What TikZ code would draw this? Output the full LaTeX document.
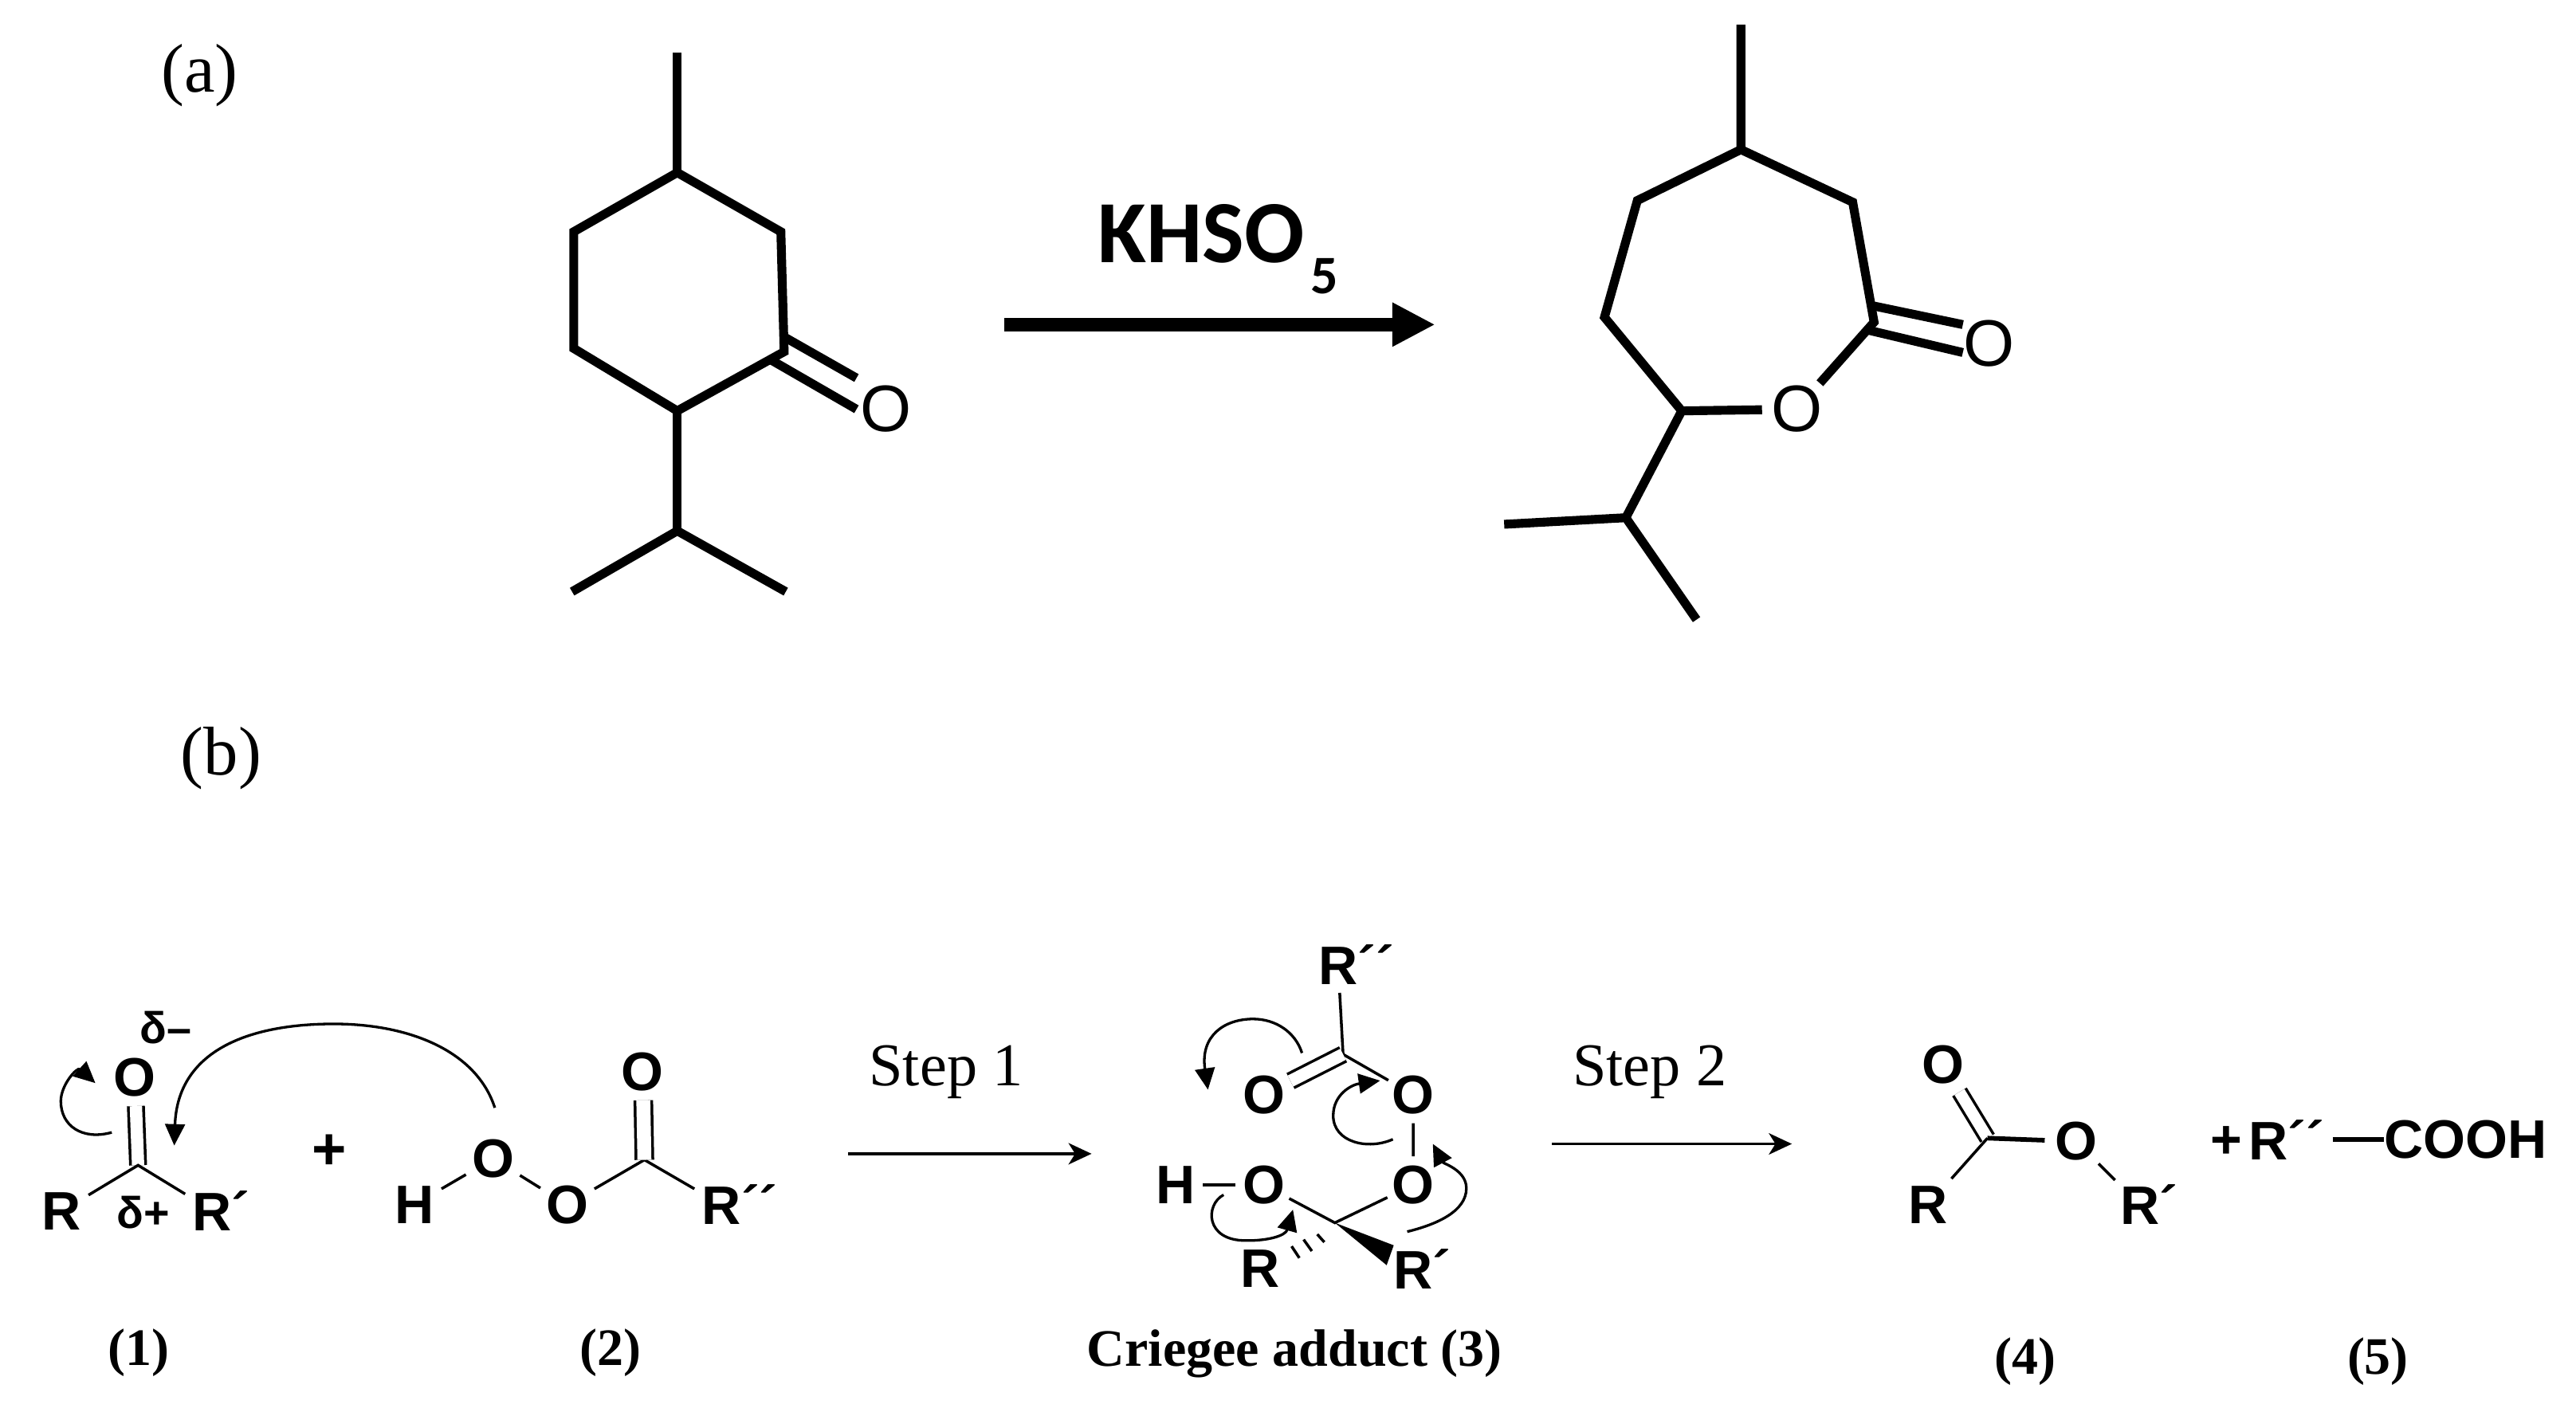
\documentclass[tikz,border=0pt]{standalone}
\usepackage{fontspec}
\usetikzlibrary{arrows.meta,calc}
\setmainfont{Liberation Serif}
\newfontfamily\chemfont{Liberation Sans}
\newfontfamily\titlefont{Carlito}
\newcommand{\fsz}[1]{\fontsize{#1}{#1}\selectfont}
\tikzset{
  big/.style={line width=5.4,line cap=butt,line join=miter},
  thin bond/.style={line width=1.7},
  curly/.style={line width=1.6,-{Triangle[length=13pt,width=12pt]}},
  reaction/.style={line width=1.7,-{Stealth[length=14pt,width=13pt,inset=4pt]}},
  bigO/.style={circle,inner sep=0,minimum size=37,font=\chemfont\fsz{40}},
  atom/.style={circle,inner sep=0,minimum size=38,font=\chemfont\bfseries\fsz{33}},
  atomc/.style={atom,minimum size=33},
  plain/.style={inner sep=0,font=\chemfont\bfseries\fsz{33}},
  tag/.style={inner sep=0,font=\fsz{42}},
  steptext/.style={inner sep=0,font=\fsz{37}},
  cap3/.style={inner sep=0,font=\bfseries\fsz{32}},
}
\begin{document}
\begin{tikzpicture}[x=1pt,y=-1pt]
\useasboundingbox (0,0) rectangle (1567,859.1);
\node[tag] (ta) at (121.5,46) {(a)};
\node[tag] (tb) at (134.5,461.5) {(b)};
% ketone
\coordinate (m1) at (412,32);
\coordinate (k1) at (412,105);
\coordinate (k2) at (475,141);
\coordinate (k3) at (477,214);
\coordinate (k4) at (412,250);
\coordinate (k5) at (349,212);
\coordinate (k6) at (349,141);
\coordinate (k7) at (412,323);
\coordinate (k8) at (348,360);
\coordinate (k9) at (478,360);
\node[bigO] (kO) at (539,249) {O};
\coordinate (kd1) at (477,205);
\coordinate (kd2) at (521,230);
\coordinate (kd3) at (469,219);
\coordinate (kd4) at (521,249);
\draw[big] (k1) -- (k2) -- (k3) -- (k4) -- (k5) -- (k6) -- cycle;
\draw[big] (m1) -- (k1);
\draw[big] (k4) -- (k7);
\draw[big] (k8) -- (k7) -- (k9);
\draw[big] (kd1) -- (kd2);
\draw[big] (kd3) -- (kd4);
% arrow
\coordinate (a1) at (611,197.5);
\coordinate (a2) at (873,197.5);
\draw[line width=8,-{Triangle[length=26pt,width=25pt]}] (a1) -- (a2);
\node[inner sep=0,font=\titlefont\bfseries\fsz{54}] (khso) at (730.5,142) {KHSO};
\node[inner sep=0,font=\titlefont\bfseries\fsz{33}] (sub5) at (805.6,168) {5};
% lactone
\coordinate (l0) at (1059,15);
\coordinate (l1) at (1059,91);
\coordinate (l2) at (1127,123);
\coordinate (l3) at (1140,196);
\node[bigO] (lO) at (1093,249) {O};
\coordinate (l5) at (1023,250);
\coordinate (l6) at (976,193);
\coordinate (l7) at (996,122);
\coordinate (l8) at (989,315);
\coordinate (l9) at (915,319);
\coordinate (l10) at (1032,377);
\node[bigO] (lO2) at (1210,209) {O};
\coordinate (ld1) at (1139,186);
\coordinate (ld2) at (1194,197.5);
\coordinate (ld3) at (1137,201);
\coordinate (ld4) at (1194,214.5);
\draw[big] (l0) -- (l1) -- (l2) -- (l3) -- (lO) -- (l5) -- (l6) -- (l7) -- (l1);
\draw[big] (l5) -- (l8);
\draw[big] (l9) -- (l8) -- (l10);
\draw[big] (ld1) -- (ld2);
\draw[big] (ld3) -- (ld4);
% compound 1
\node[atomc] (o1) at (82,655.5) {O};
\coordinate (c1) at (84,709);
\node[atom] (r1) at (37.4,737) {R};
\node[atom] (r1p) at (129,736.5) {R\rlap{´}};
\node[plain,font=\chemfont\bfseries\fsz{27}] (dm) at (101,625) {δ–};
\node[plain,font=\chemfont\bfseries\fsz{27}] (dp) at (87,737.5) {δ+};
\draw[thin bond,double,double distance=7.5] (c1) -- (o1);
\draw[thin bond] (r1) -- (c1) -- (r1p);
\coordinate (s1) at (68,689);
\coordinate (e1) at (58,659);
\draw[curly] (s1) .. controls (50,694) and (37,685) .. (37,670) .. controls (37,660) and (47,649) .. (e1);
\coordinate (s2) at (301,674);
\coordinate (e2) at (106,697);
\draw[curly] (s2) .. controls (290,640) and (250,623) .. (203,623) .. controls (150,623) and (108,640) .. (e2);
\node[plain,font=\chemfont\bfseries\fsz{36}] (pl1) at (200.5,701) {+};
% compound 2
\node[atom] (h2) at (252,733) {H};
\node[atom] (o2a) at (300,705) {O};
\node[atom] (o2b) at (345,733) {O};
\coordinate (c2) at (392,705.7);
\node[atom,minimum size=34] (o2c) at (391,652) {O};
\node[atom] (r2) at (439,733) {R\rlap{´´}};
\draw[thin bond] (h2) -- (o2a) -- (o2b) -- (c2) -- (r2);
\draw[thin bond,double,double distance=8.5] (c2) -- (o2c);
\node[cap3] (n1) at (84.5,823) {(1)};
\node[cap3] (n2) at (371.5,823) {(2)};
% step 1
\node[steptext] (st1) at (575.5,652.5) {Step 1};
\coordinate (b1) at (516,702);
\coordinate (b2) at (664,702);
\draw[reaction] (b1) -- (b2);
% criegee
\node[atomc] (r3) at (814,587) {R\rlap{´´}};
\coordinate (c3) at (817,641.5);
\node[atomc,minimum size=36] (o3l) at (768.8,666) {O};
\node[atomc] (o3r) at (859.7,666) {O};
\node[atomc] (o3d) at (859.7,721) {O};
\node[atomc] (o3e) at (768.8,721) {O};
\node[atomc] (h3) at (715,721) {H};
\coordinate (c4) at (812,744);
\node[atomc] (r3a) at (766.6,772) {R};
\node[atomc] (r3b) at (859.7,772) {R\rlap{´}};
\draw[thin bond] (r3) -- (c3) -- (o3r) -- (o3d);
\draw[thin bond] (o3e) -- (h3);
\draw[thin bond,double,double distance=7.5] (c3) -- (o3l);
\draw[thin bond] (o3d) -- (c4) -- (o3e);
\coordinate (w1) at (847.8,757.7);
\coordinate (w2) at (843.5,769.8);
\fill (c4) -- (w1) -- (w2) -- cycle;
\coordinate (h1a) at (801.3,751);
\coordinate (h1b) at (805.6,755.8);
\coordinate (h2a) at (793,754.2);
\coordinate (h2b) at (798,761.2);
\coordinate (h3a) at (785.7,758.3);
\coordinate (h3b) at (790.4,765.4);
\draw[thin bond] (h1a) -- (h1b) (h2a) -- (h2b) (h3a) -- (h3b);
\coordinate (f1) at (792,640.7);
\coordinate (f2) at (734.8,663);
\draw[curly] (f1) .. controls (788,628) and (776,620) .. (762.3,620) .. controls (745,620) and (730,630) .. (f2);
\coordinate (f3) at (847.3,693.2);
\coordinate (f4) at (839.5,657.5);
\draw[curly] (f3) .. controls (832,700) and (811,695) .. (811,678.8) .. controls (811,666) and (822,660) .. (f4);
\coordinate (f5) at (856,749.4);
\coordinate (f6) at (871.6,696);
\draw[curly] (f5) .. controls (874,745) and (892,737) .. (892,723) .. controls (892,712) and (878,708) .. (f6);
\coordinate (f7) at (744.3,727);
\coordinate (f8) at (786.5,736);
\draw[curly] (f7) .. controls (733,733) and (733,755) .. (758,754.8) .. controls (771,755) and (782,752) .. (f8);
\node[cap3] (n3) at (787.5,823.5) {Criegee adduct (3)};
% step 2
\node[steptext] (st2) at (1003.5,652.5) {Step 2};
\coordinate (b3) at (944,696);
\coordinate (b4) at (1090,696);
\draw[reaction] (b3) -- (b4);
% compound 4
\node[atom] (o4) at (1182,648) {O};
\coordinate (c5) at (1209,692.5);
\node[atom] (o5) at (1263,694.5) {O};
\node[atom,minimum size=42] (r4) at (1173,733) {R};
\node[atom,minimum size=42] (r5) at (1301.6,733) {R\rlap{´}};
\draw[thin bond,double,double distance=7] (c5) -- (o4);
\draw[thin bond] (r4) -- (c5);
\draw[line width=2.8] (c5) -- (o5);
\draw[thin bond] (o5) -- (r5);
\node[plain] (pl2) at (1354.5,695) {+};
\node[plain] (r6) at (1380,693.5) {R\rlap{´´}};
\node[plain] (cooh) at (1500,693.5) {COOH};
\coordinate (dash) at (1419,693.5);
\draw[line width=2.8] (dash) -- (cooh);
\node[cap3] (n4) at (1232,828.5) {(4)};
\node[cap3] (n5) at (1446.5,828.5) {(5)};
\end{tikzpicture}
\end{document}
